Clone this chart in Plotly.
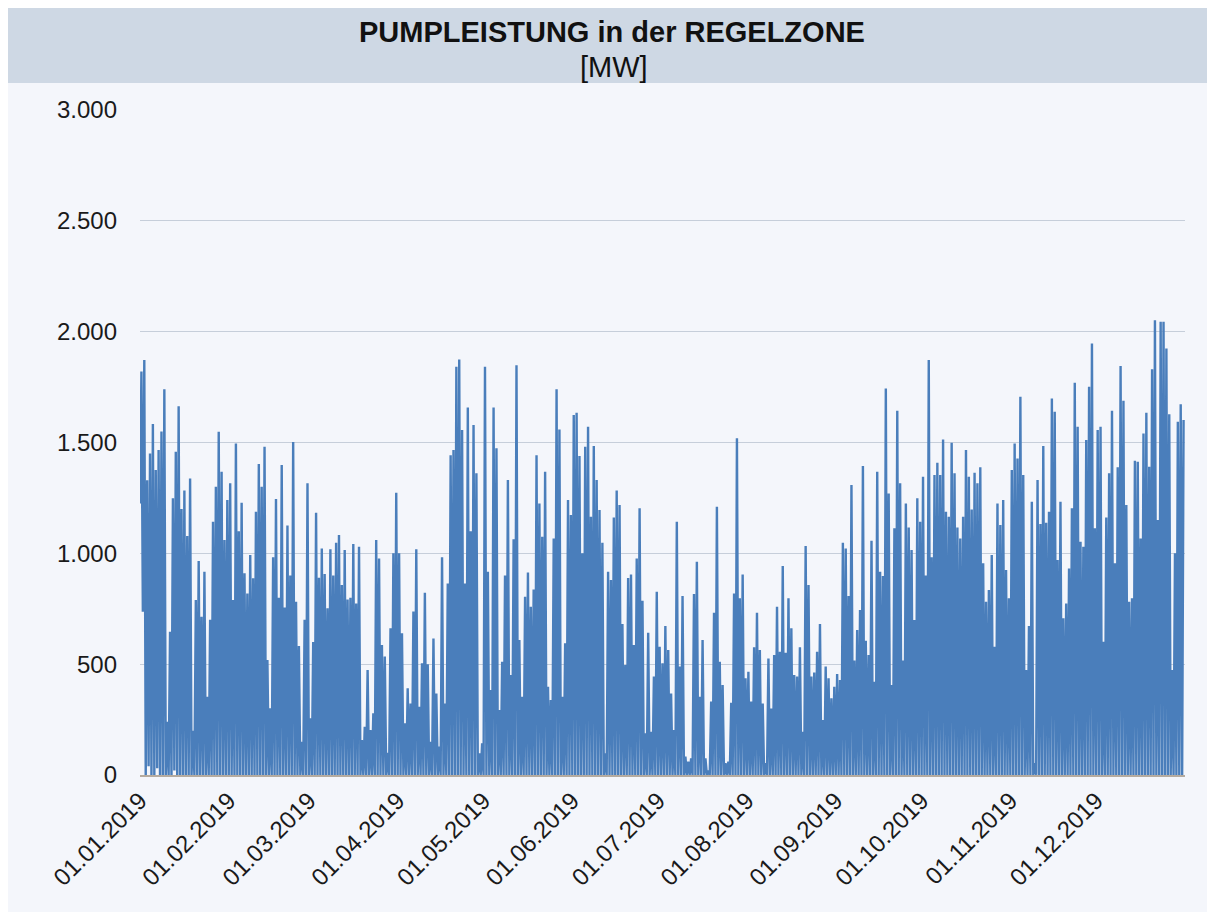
import pandas as pd
import plotly.graph_objects as go

# Daily peak pump power [MW], one value per day
JAN = [1820, 1872, 1330, 1450, 1583, 1376, 1466, 1550, 1740, 240, 646, 1248, 1458, 1664, 1200, 1283,
       1078, 1338, 200, 789, 965, 714, 917, 353, 700, 1143, 1300, 1549, 1368, 1060, 1240]
FEB = [1316, 789, 1496, 1100, 1228, 910, 819, 992, 887, 1188, 1403, 1300, 1481, 519, 301, 982,
       1245, 800, 1398, 756, 1125, 900, 1502, 782, 582, 150, 700, 1316]
MAR = [256, 600, 1183, 890, 1022, 907, 752, 1018, 900, 1048, 1083, 857, 1015, 792, 800, 1042,
       774, 1030, 158, 218, 474, 203, 278, 1060, 977, 586, 534, 100, 662, 1000, 1273]
APR = [1000, 639, 233, 391, 323, 737, 1018, 308, 504, 822, 500, 150, 616, 368, 128, 982,
       323, 864, 1443, 1466, 1842, 1875, 1556, 864, 1658, 1100, 1579, 1361, 98, 143]
MAY = [1842, 917, 383, 1658, 1474, 293, 511, 900, 1331, 451, 1063, 1849, 609, 353, 804, 913,
       759, 837, 1443, 1225, 1075, 1368, 398, 338, 1067, 1740, 1559, 353, 594, 1240, 1173]
JUN = [1624, 1634, 1439, 1000, 1481, 1571, 1165, 1484, 1331, 1195, 1048, 98, 917, 880, 1162,
       1283, 1218, 681, 496, 889, 905, 586, 977, 1203, 786, 188, 642, 195, 444, 827]
JUL = [579, 504, 672, 564, 368, 203, 1143, 489, 807, 83, 60, 75, 816, 962, 353, 609,
       75, 20, 331, 732, 1210, 511, 406, 53, 60, 326, 819, 1519, 797, 905, 436]
AUG = [466, 331, 576, 732, 564, 323, 53, 526, 300, 541, 759, 556, 943, 552, 797, 662,
       451, 444, 576, 195, 1033, 857, 444, 462, 556, 681, 248, 489, 436, 346, 398]
SEP = [456, 429, 1048, 1022, 807, 1308, 516, 654, 744, 1394, 606, 541, 1057, 421, 1368,
       917, 898, 1744, 1270, 406, 1113, 1643, 1316, 516, 1225, 1117, 1015, 699, 1248, 1143]
OCT = [1346, 900, 1872, 982, 1353, 1409, 1353, 1514, 1188, 1165, 1499, 1361, 1117, 1067, 1165,
       1466, 1346, 1198, 1364, 1316, 1388, 955, 782, 834, 992, 579, 1225, 1128, 1240, 925, 797]
NOV = [1376, 1496, 1428, 1706, 1353, 474, 672, 1233, 53, 1331, 1132, 1484, 1138, 1188, 1699,
       1639, 970, 1233, 707, 774, 932, 1203, 1770, 1571, 1052, 1030, 1511, 1752, 1947, 1113]
DEC = [1556, 1571, 601, 1162, 1361, 1643, 955, 1388, 1845, 1688, 1218, 782, 797, 1418, 1413,
       1067, 1541, 1634, 1391, 1830, 2052, 1150, 2045, 2045, 1924, 1628, 474, 1000, 1594, 1673, 1601]

# Daily night-time minimum [MW] (mostly near zero)
LOW_JAN = [1225, 737, 0, 40, 0, 0, 30, 0, 0, 0, 0, 0, 20, 0, 0, 0, 0, 0, 0, 0, 0, 0, 0, 0, 0, 0, 0, 0, 0, 0, 0]
LOW_FEB = [0, 0, 0, 0, 0, 0, 0, 0, 0, 0, 0, 0, 0, 0, 0, 0, 0, 0, 0, 0, 0, 0, 0, 0, 0, 0, 0, 0]
LOW_MAR = [0, 0, 0, 0, 0, 0, 0, 0, 0, 0, 0, 0, 0, 0, 0, 0, 0, 0, 0, 0, 0, 0, 0, 0, 0, 0, 0, 0, 0, 0, 0]
LOW_APR = [0, 0, 0, 0, 0, 0, 0, 0, 0, 0, 0, 0, 0, 0, 0, 0, 0, 0, 0, 0, 0, 0, 0, 0, 0, 0, 0, 0, 0, 0]
LOW_MAY = [0, 0, 0, 0, 0, 0, 0, 0, 0, 0, 0, 0, 0, 0, 0, 0, 0, 0, 0, 0, 0, 0, 0, 0, 0, 0, 0, 0, 0, 0, 0]
LOW_JUN = [0, 0, 0, 0, 0, 0, 0, 0, 0, 0, 0, 0, 0, 0, 0, 0, 0, 0, 0, 0, 0, 0, 0, 0, 0, 0, 0, 0, 0, 0]
LOW_JUL = [0, 0, 0, 0, 0, 0, 0, 0, 0, 0, 0, 0, 0, 0, 0, 0, 0, 0, 0, 0, 0, 0, 0, 0, 0, 0, 0, 0, 0, 0, 0]
LOW_AUG = [0, 0, 0, 0, 0, 0, 0, 0, 0, 0, 0, 0, 0, 0, 0, 0, 0, 0, 0, 0, 0, 0, 0, 0, 0, 0, 0, 0, 0, 0, 0]
LOW_SEP = [0, 0, 0, 0, 0, 0, 0, 0, 0, 0, 0, 0, 0, 0, 0, 0, 0, 0, 0, 0, 0, 0, 0, 0, 0, 0, 0, 0, 0, 0]
LOW_OCT = [0, 0, 0, 0, 0, 0, 0, 0, 0, 0, 0, 0, 0, 0, 0, 0, 0, 0, 0, 0, 0, 0, 0, 0, 0, 0, 0, 0, 0, 0, 0]
LOW_NOV = [0, 0, 0, 0, 0, 0, 0, 0, 0, 0, 0, 0, 0, 0, 0, 0, 0, 0, 0, 0, 0, 0, 0, 0, 0, 0, 0, 0, 0, 0]
LOW_DEC = [0, 0, 0, 0, 0, 0, 0, 0, 0, 0, 0, 0, 0, 0, 0, 0, 0, 0, 0, 0, 0, 0, 0, 0, 0, 0, 0, 0, 0, 0, 0]

TICK_VALUES = ["2019-01-01", "2019-02-01", "2019-03-01", "2019-04-01", "2019-05-01", "2019-06-01",
               "2019-07-01", "2019-08-01", "2019-09-01", "2019-10-01", "2019-11-01", "2019-12-01"]
TICK_LABELS = ["01.01.2019", "01.02.2019", "01.03.2019", "01.04.2019", "01.05.2019", "01.06.2019",
               "01.07.2019", "01.08.2019", "01.09.2019", "01.10.2019", "01.11.2019", "01.12.2019"]

TITLE = "PUMPLEISTUNG in der REGELZONE"
UNIT = "[MW]"

peaks = JAN + FEB + MAR + APR + MAY + JUN + JUL + AUG + SEP + OCT + NOV + DEC
lows = (LOW_JAN + LOW_FEB + LOW_MAR + LOW_APR + LOW_MAY + LOW_JUN + LOW_JUL + LOW_AUG
        + LOW_SEP + LOW_OCT + LOW_NOV + LOW_DEC)
days = pd.date_range("2019-01-01", periods=len(peaks), freq="D")

xs, ys = [], []
for d, lo, hi in zip(days, lows, peaks):
    xs += [d, d + pd.Timedelta(hours=12)]
    ys += [lo, hi]

FONT = "Liberation Sans, Arial, sans-serif"

fig = go.Figure()
fig.add_trace(go.Scatter(x=xs, y=ys, mode="lines",
                         line=dict(color="#4a7ebb", width=2.4), showlegend=False,
                         hoverinfo="skip"))

# figure sits at (8, 8) inside the page because of the default body margin
W, H = 1199, 904
L, R, T, B = 132, 22, 102, 137
pw, ph = W - L - R, H - T - B


def px(xp):
    return (xp - L) / pw


def py(yp):
    return (H - B - yp) / ph


fig.update_layout(
    width=W, height=H,
    margin=dict(l=L, r=R, t=T, b=B, pad=0),
    paper_bgcolor="#f4f6fb",
    plot_bgcolor="rgba(0,0,0,0)",
    separators=",.",
    font=dict(family=FONT, color="#1a1a1a"),
    shapes=[
        dict(type="rect", xref="paper", yref="paper", layer="below",
             x0=px(0), x1=px(W), y0=py(75), y1=py(0),
             fillcolor="#ced8e4", line=dict(width=0)),
    ],
    annotations=[
        dict(text="<b>" + TITLE + "</b>", xref="paper", yref="paper",
             x=px(604), y=py(24), showarrow=False, xanchor="center", yanchor="middle",
             font=dict(size=29, family=FONT, color="#111111")),
        dict(text=UNIT, xref="paper", yref="paper",
             x=px(606), y=py(59), showarrow=False, xanchor="center", yanchor="middle",
             font=dict(size=29, family=FONT, color="#111111")),
    ],
)

fig.update_yaxes(range=[0, 3000], dtick=500, tickformat=",d",
                 showgrid=True, gridcolor="#c6ceda", gridwidth=1.2,
                 zeroline=False, showline=False, ticks="",
                 ticklabelstandoff=22,
                 tickfont=dict(size=24, family=FONT, color="#1a1a1a"))
fig.update_xaxes(type="date", range=["2019-01-01", "2020-01-01"],
                 tickvals=TICK_VALUES, ticktext=TICK_LABELS, tickangle=-45,
                 showgrid=False, zeroline=False, showline=True,
                 linecolor="#b5ab9f", linewidth=2, ticks="",
                 tickfont=dict(size=24, family=FONT, color="#1a1a1a"))

fig.write_html("out.html")
